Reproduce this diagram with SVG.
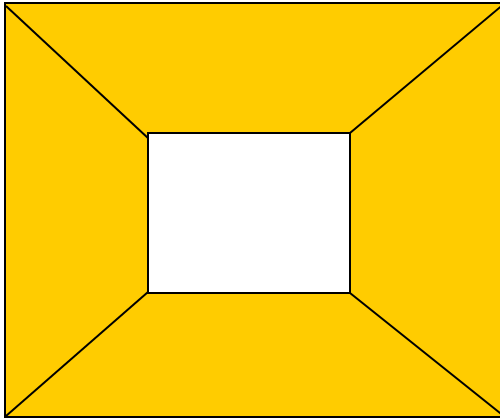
<svg xmlns="http://www.w3.org/2000/svg" width="500" height="418" viewBox="0 0 500 418">
<style>
.s{stroke:#000;stroke-width:2;fill:none}
</style>
<rect width="500" height="418" fill="#fff"/>
<g id="frame">
<rect x="5" y="3" width="500" height="414" fill="#FFCC00" stroke="#000" stroke-width="2"/>
</g>
<g id="connectors">
<line class="s" x1="6" y1="6" x2="149" y2="139"/>
<line class="s" x1="505" y1="3" x2="350" y2="133"/>
<line class="s" x1="6" y1="416" x2="148" y2="292"/>
<line class="s" x1="505" y1="417" x2="350" y2="293"/>
</g>
<g id="inner">
<rect x="148" y="133" width="202" height="160" fill="#fff" stroke="#000" stroke-width="2"/>
</g>
</svg>
